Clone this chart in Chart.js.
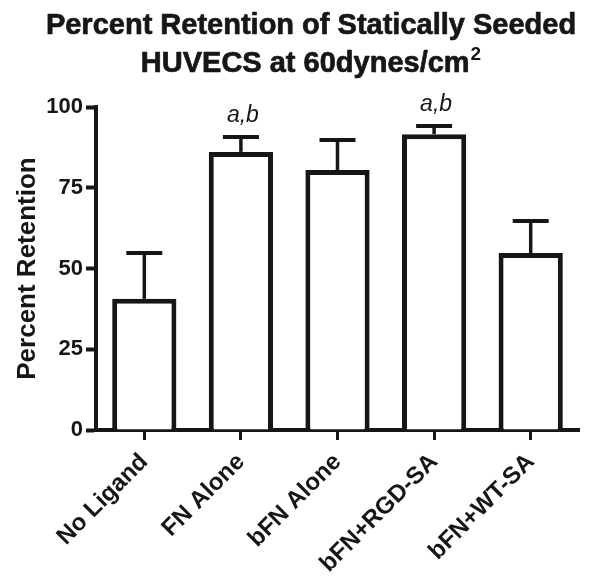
<!DOCTYPE html>
<html>
<head>
<meta charset="utf-8">
<script src="https://cdn.jsdelivr.net/npm/chart.js@4/dist/chart.umd.min.js"></script>
<style>
  html, body { margin: 0; padding: 0; background: #ffffff; }
  #wrap { width: 604px; height: 585px; position: relative; }
</style>
</head>
<body>
<div id="wrap"><canvas id="c" width="604" height="585"></canvas></div>
<script>
// ---- data ----
const categories = ['No Ligand', 'FN Alone', 'bFN Alone', 'bFN+RGD-SA', 'bFN+WT-SA'];
const retention = [40.6, 86.1, 80.5, 91.6, 54.8];
const errorUp = [14.2, 4.6, 9.3, 2.5, 9.9];
const significance = ['', 'a,b', '', 'a,b', ''];
const yTicks = [0, 25, 50, 75, 100];
const titleLine1 = 'Percent Retention of Statically Seeded';
const titleLine2 = 'HUVECS at 60dynes/cm';
const titleSup = '2';
const yAxisTitle = 'Percent Retention';

const INK = '#161616';
const FONT = "'Liberation Sans', Arial, Helvetica, sans-serif";

const titlePlugin = {
  id: 'customTitle',
  afterDraw(chart) {
    const ctx = chart.ctx;
    const cx = 311;
    ctx.save();
    ctx.fillStyle = INK;
    ctx.strokeStyle = INK;
    ctx.lineWidth = 0.7;
    ctx.lineJoin = 'round';
    ctx.textBaseline = 'alphabetic';
    ctx.textAlign = 'left';
    ctx.font = 'bold 29px ' + FONT;
    const w1 = ctx.measureText(titleLine1).width;
    ctx.fillText(titleLine1, cx - w1 / 2, 34);
    ctx.strokeText(titleLine1, cx - w1 / 2, 34);
    const w2 = ctx.measureText(titleLine2).width;
    ctx.font = 'bold 19px ' + FONT;
    const ws = ctx.measureText(titleSup).width;
    const start = cx - (w2 + ws + 1) / 2;
    ctx.font = 'bold 29px ' + FONT;
    ctx.fillText(titleLine2, start, 72);
    ctx.strokeText(titleLine2, start, 72);
    ctx.font = 'bold 19px ' + FONT;
    ctx.fillText(titleSup, start + w2 + 1, 60);
    ctx.restore();
  }
};

const errorBarPlugin = {
  id: 'errorBars',
  afterDatasetsDraw(chart) {
    const ctx = chart.ctx;
    const meta = chart.getDatasetMeta(0);
    const y = chart.scales.y;
    ctx.save();
    ctx.strokeStyle = INK;
    ctx.fillStyle = INK;
    meta.data.forEach((bar, i) => {
      const x = bar.x;
      const yb = y.getPixelForValue(retention[i]);
      const yt = y.getPixelForValue(retention[i] + errorUp[i]);
      ctx.lineWidth = 3.5;
      ctx.beginPath();
      ctx.moveTo(x, yb);
      ctx.lineTo(x, yt);
      ctx.stroke();
      ctx.lineWidth = 4;
      ctx.beginPath();
      ctx.moveTo(x - 18, yt);
      ctx.lineTo(x + 18, yt);
      ctx.stroke();
      if (significance[i]) {
        ctx.font = 'italic 23px ' + FONT;
        ctx.textAlign = 'center';
        ctx.textBaseline = 'alphabetic';
        ctx.fillText(significance[i], x + 2, yt - 15);
      }
    });
    ctx.restore();
  }
};

new Chart(document.getElementById('c'), {
  type: 'bar',
  data: {
    labels: categories,
    datasets: [{
      data: retention,
      backgroundColor: '#ffffff',
      borderColor: INK,
      borderWidth: 5,
      borderSkipped: 'start',
      barPercentage: 0.665,
      categoryPercentage: 1.0
    }]
  },
  options: {
    responsive: false,
    animation: false,
    devicePixelRatio: 1,
    layout: { padding: { left: 12, right: 25, top: 107, bottom: 0 } },
    plugins: {
      legend: { display: false },
      tooltip: { enabled: false },
      title: { display: false }
    },
    scales: {
      x: {
        z: 1,
        grid: {
          display: true,
          drawOnChartArea: false,
          drawTicks: true,
          offset: false,
          tickLength: 10,
          tickWidth: 3,
          tickColor: INK
        },
        border: { display: true, color: INK, width: 4 },
        ticks: {
          color: INK,
          font: { family: FONT, size: 24, weight: 'bold' },
          minRotation: 45,
          maxRotation: 45,
          padding: 8
        },
        afterFit(scale) { scale.height = 155; }
      },
      y: {
        min: 0,
        max: 100,
        afterBuildTicks(scale) { scale.ticks = yTicks.map(v => ({ value: v })); },
        grid: {
          display: true,
          drawOnChartArea: false,
          drawTicks: true,
          tickLength: 10,
          tickWidth: 4,
          tickColor: INK
        },
        border: { display: true, color: INK, width: 4 },
        ticks: {
          color: INK,
          font: { family: FONT, size: 22, weight: 'bold' },
          padding: 3
        },
        title: {
          display: true,
          text: yAxisTitle,
          color: INK,
          font: { family: FONT, size: 26, weight: 'bold' },
          padding: { top: 0, bottom: 0 }
        },
        afterFit(scale) { scale.width = 84; }
      }
    }
  },
  plugins: [errorBarPlugin, titlePlugin]
});
</script>
</body>
</html>
